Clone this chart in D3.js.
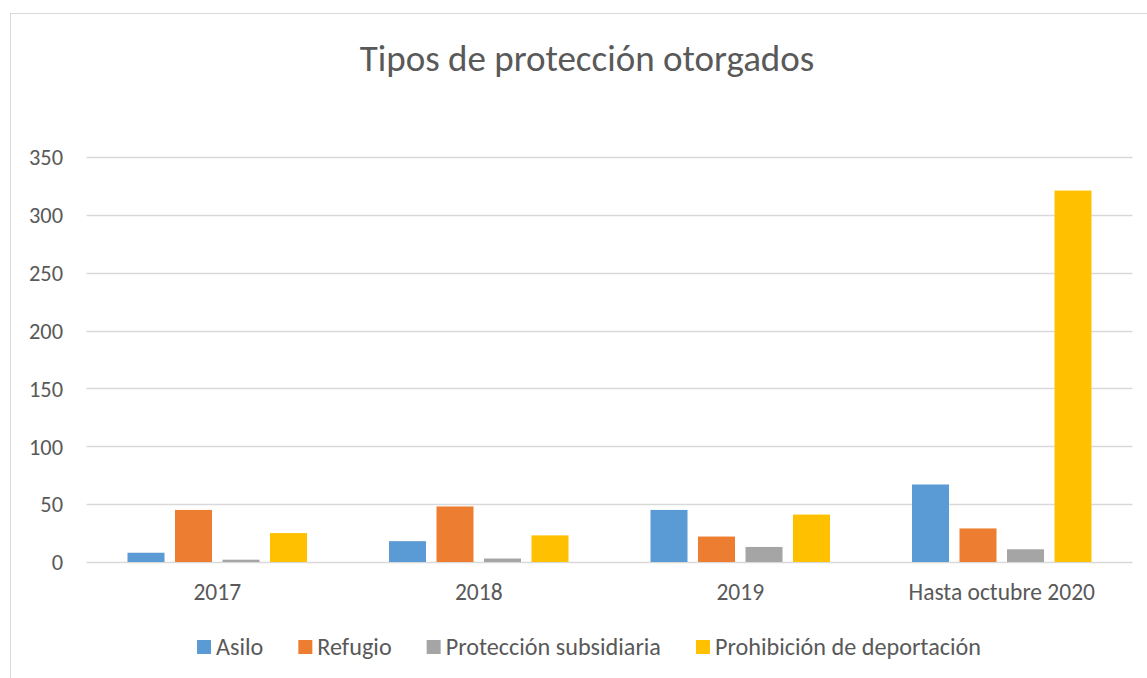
<!DOCTYPE html>
<html><head><meta charset="utf-8">
<script src="https://cdn.jsdelivr.net/npm/d3@7"></script>
<style>
html,body{margin:0;padding:0;background:#fff;}
svg{display:block;font-family:Carlito,Calibri,"Liberation Sans Narrow","Liberation Sans",sans-serif;}
</style></head>
<body>
<svg id="c" width="1147" height="678"></svg>
<script>
const categories = ["2017", "2018", "2019", "Hasta octubre 2020"];
const seriesNames = ["Asilo", "Refugio", "Protección subsidiaria", "Prohibición de deportación"];
const asilo = [8, 18, 45, 67];
const refugio = [45, 48, 22, 29];
const proteccion = [2, 3, 13, 11];
const prohibicion = [25, 23, 41, 321];
const colors = ["#5B9BD5", "#ED7D31", "#A5A5A5", "#FFC000"];
const yTicks = [0, 50, 100, 150, 200, 250, 300, 350];
const title = "Tipos de protección otorgados";

const seriesValues = [asilo, refugio, proteccion, prohibicion];
const svg = d3.select("#c");

// chart border
svg.append("rect").attr("x", 10.5).attr("y", 13.5).attr("width", 1200).attr("height", 700)
  .attr("fill", "#fff").attr("stroke", "#d9d9d9").attr("stroke-width", 1);

const plot = {left: 86.5, right: 1132.5, top: 157, bottom: 562};
const x = d3.scaleBand().domain(categories).range([plot.left, plot.right]).paddingInner(0).paddingOuter(0);
const xs = d3.scaleBand().domain(seriesNames).range([0, x.bandwidth()]).paddingInner(0.221).paddingOuter(0.863);
const y = d3.scaleLinear().domain([0, 350]).range([plot.bottom, plot.top]);

// gridlines
svg.append("g").selectAll("line").data(yTicks).join("line")
  .attr("x1", plot.left).attr("x2", plot.right)
  .attr("y1", d => Math.round(y(d)) + 0.5).attr("y2", d => Math.round(y(d)) + 0.5)
  .attr("stroke", "#d9d9d9").attr("stroke-width", 1.3);

// y axis
const yAxis = d3.axisLeft(y).tickValues(yTicks).tickSize(0).tickPadding(0);
const ya = svg.append("g").attr("transform", `translate(63,0)`).call(yAxis)
  .attr("font-family", null).attr("font-size", null);
ya.select(".domain").remove();
ya.selectAll("text").attr("fill", "#595959").style("font-size", "22.4px").attr("dy", "0.35em");

// bars
const data = [];
categories.forEach((c, i) => seriesNames.forEach((s, j) => data.push({c, s, v: seriesValues[j][i], j})));
svg.append("g").selectAll("rect").data(data).join("rect")
  .attr("x", d => x(d.c) + xs(d.s))
  .attr("width", xs.bandwidth())
  .attr("y", d => y(d.v))
  .attr("height", d => y(0) - y(d.v))
  .attr("fill", d => colors[d.j]);

// x axis
const xAxis = d3.axisBottom(x).tickSize(0).tickPadding(0);
const xa = svg.append("g").attr("transform", `translate(0,${plot.bottom + 30})`).call(xAxis)
  .attr("font-family", null).attr("font-size", null);
xa.select(".domain").remove();
xa.selectAll("text").attr("fill", "#595959").style("font-size", "23.5px").attr("dy", "0.35em");

// title
svg.append("text").attr("x", 587).attr("y", 71).attr("text-anchor", "middle")
  .attr("fill", "#595959").style("font-size", "37px").style("font-weight", "300").text(title);

// legend
const lg = svg.append("g");
const items = lg.selectAll("g").data(seriesNames).join("g");
items.append("rect").attr("width", 14).attr("height", 14).attr("y", -7).attr("fill", (d, i) => colors[i]);
items.append("text").attr("x", 19).attr("dy", "0.35em").attr("fill", "#595959").style("font-size", "24.2px").text(d => d);
let widths = [];
items.each(function() { widths.push(19 + d3.select(this).select("text").node().getComputedTextLength()); });
const gap = 35;
const total = d3.sum(widths) + gap * (widths.length - 1);
let cx = 589 - total / 2;
items.attr("transform", (d, i) => { const t = `translate(${cx},647)`; cx += widths[i] + gap; return t; });
</script>
</body></html>
